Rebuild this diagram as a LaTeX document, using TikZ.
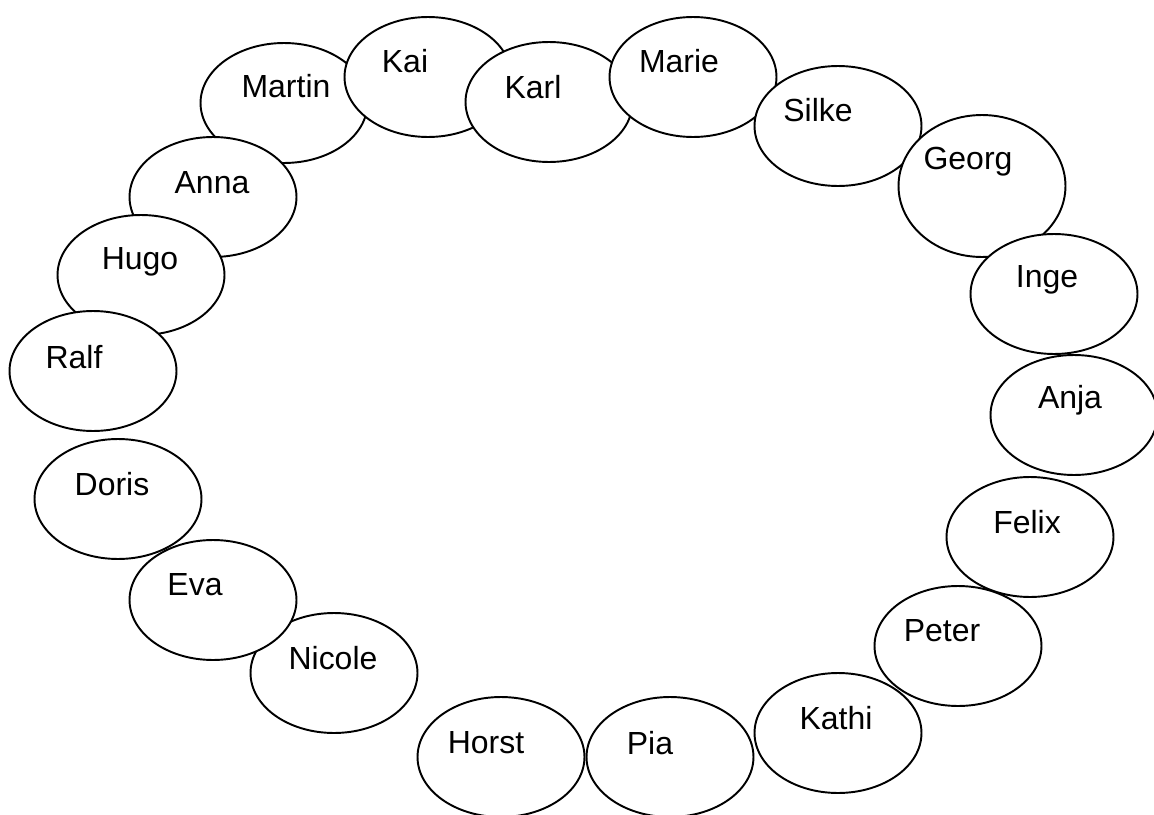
\documentclass[tikz,border=0pt]{standalone}
\usepackage{fontspec}
\setmainfont{Liberation Sans}
\usetikzlibrary{shapes.geometric}
\tikzstyle{person}=[ellipse,draw,line width=1.1pt,fill=white,inner sep=0pt,minimum width=3.34cm]
\tikzstyle{rufname}=[inner sep=0pt,font=\fontsize{18.2}{21}\selectfont]

\begin{document}
\begin{tikzpicture}[x=0.02cm,y=-0.02cm]
			% Rahmen festlegen
			\useasboundingbox (0,0) rectangle (1154,815);
			% Kreis der Personen zeichnen
			\foreach \n/\x/\y/\h/\tx/\ty in {
				Martin/284/103/2.4/286/86,Kai/428/77/2.4/405/61,Karl/549/102/2.4/533/87,
				Marie/693/77/2.4/679/61,Silke/838/126/2.4/818/110,Georg/982/186/2.84/968/162,
				Inge/1054/294/2.4/1047/280,Anja/1074/415/2.4/1070/400,Felix/1030/537/2.4/1027/522,
				Peter/958/646/2.4/942/631,Kathi/838/733/2.4/836/718,Pia/670/757/2.4/650/743,
				Horst/501/757/2.4/486/743,Nicole/334/673/2.4/333/658,Eva/213/600/2.4/195/585,
				Doris/118/499/2.4/112/484,Anna/213/197/2.4/212/183,Hugo/141/275/2.4/140/262,
				Ralf/93/371/2.4/74/357}
			{
				\node[person,minimum height=\h cm] (\n) at (\x,\y) {};
				\node[rufname] (t\n) at (\tx,\ty) {\n};
			}
		\end{tikzpicture}
\end{document}
